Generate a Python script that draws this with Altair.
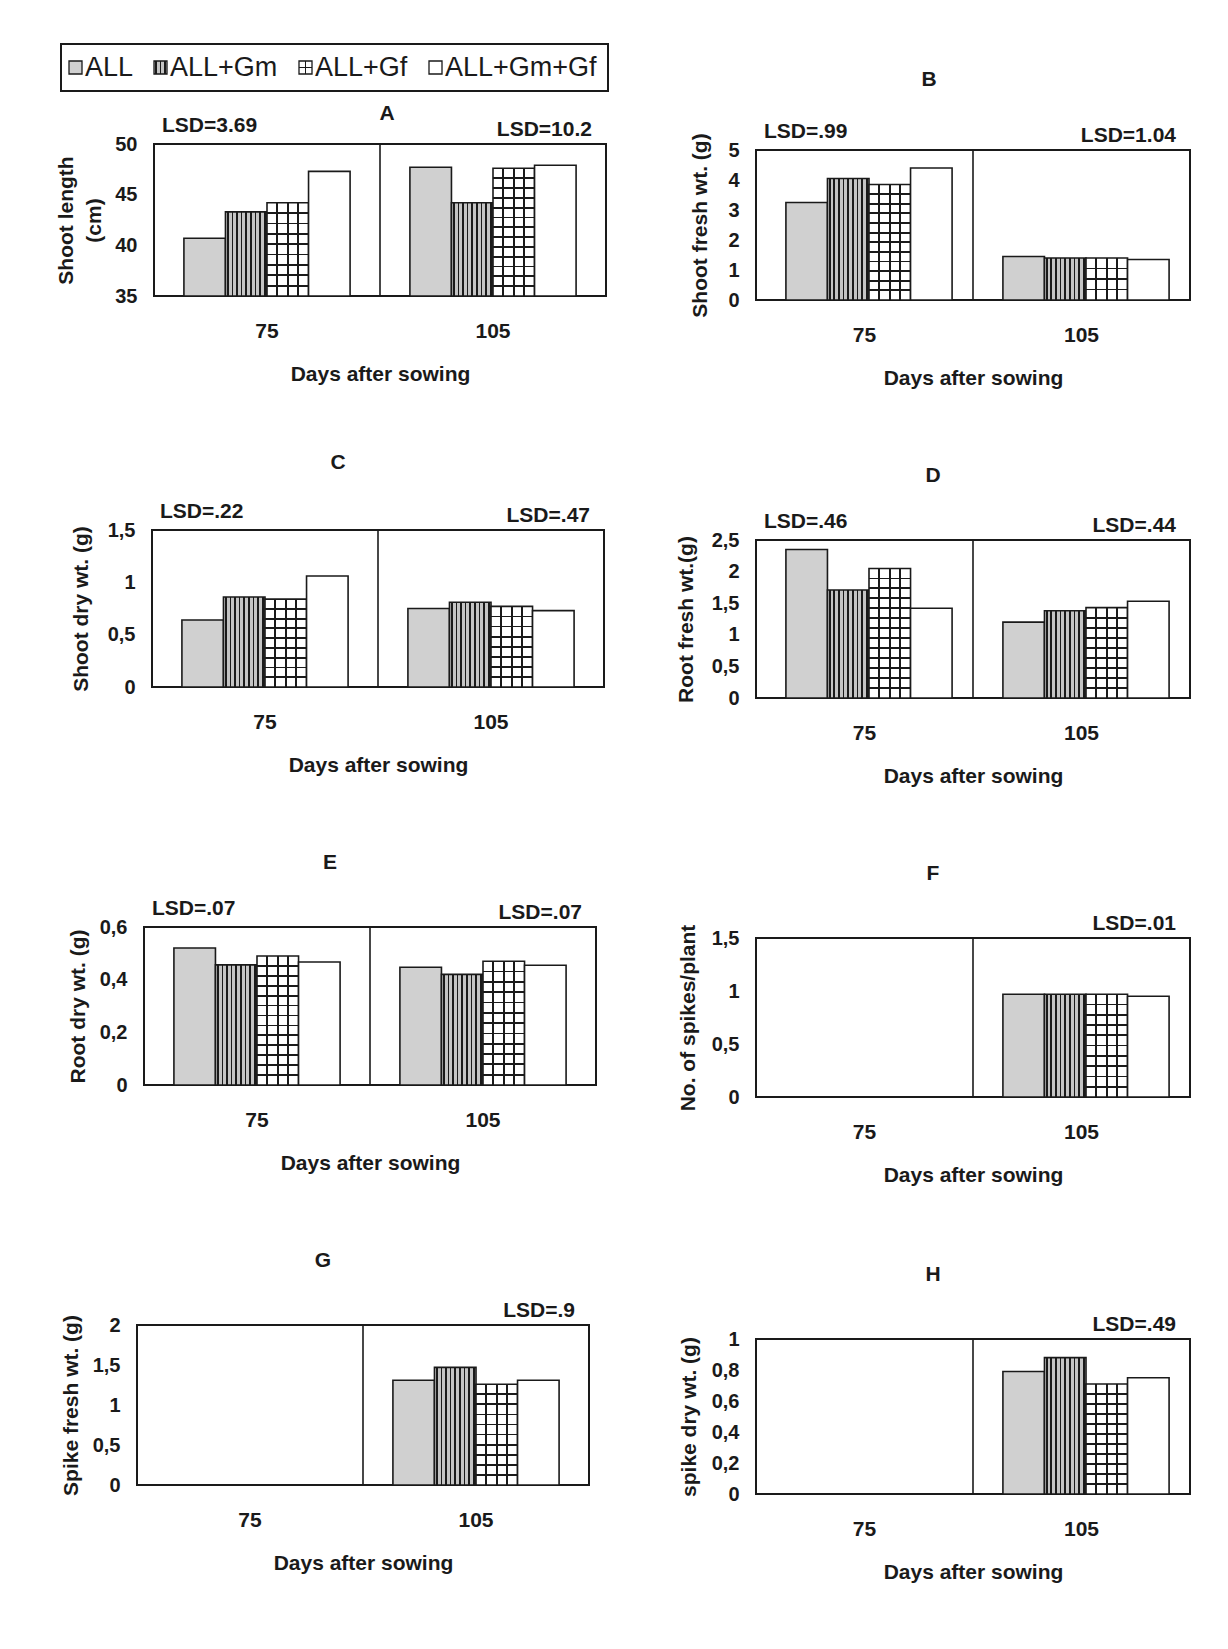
import altair as alt
import pandas as pd

TREAT = ["ALL", "ALL+Gm", "ALL+Gf", "ALL+Gm+Gf"]
DAYS = ["75", "105"]

# values (order: ALL, ALL+Gm, ALL+Gf, ALL+Gm+Gf)
A_75 = [40.7, 43.3, 44.2, 47.3]
A_105 = [47.7, 44.2, 47.6, 47.9]
B_75 = [3.25, 4.05, 3.85, 4.4]
B_105 = [1.45, 1.4, 1.4, 1.35]
C_75 = [0.64, 0.86, 0.84, 1.06]
C_105 = [0.75, 0.81, 0.77, 0.73]
D_75 = [2.35, 1.71, 2.05, 1.42]
D_105 = [1.2, 1.38, 1.43, 1.53]
E_75 = [0.52, 0.456, 0.49, 0.467]
E_105 = [0.447, 0.42, 0.47, 0.455]
F_105 = [0.97, 0.97, 0.97, 0.95]
G_105 = [1.31, 1.47, 1.26, 1.31]
H_105 = [0.79, 0.88, 0.71, 0.75]

LSD_A = ["LSD=3.69", "LSD=10.2"]
LSD_B = ["LSD=.99", "LSD=1.04"]
LSD_C = ["LSD=.22", "LSD=.47"]
LSD_D = ["LSD=.46", "LSD=.44"]
LSD_E = ["LSD=.07", "LSD=.07"]
LSD_F = [None, "LSD=.01"]
LSD_G = [None, "LSD=.9"]
LSD_H = [None, "LSD=.49"]

TICKS_A = [35, 40, 45, 50]
TICKS_B = [0, 1, 2, 3, 4, 5]
TICKS_C = [0, 0.5, 1, 1.5]
TICKS_D = [0, 0.5, 1, 1.5, 2, 2.5]
TICKS_E = [0, 0.2, 0.4, 0.6]
TICKS_F = [0, 0.5, 1, 1.5]
TICKS_G = [0, 0.5, 1, 1.5, 2]
TICKS_H = [0, 0.2, 0.4, 0.6, 0.8, 1]

FONT = "Liberation Sans"
INK = "#1a1a1a"
GRAY = "#d0d0d0"
CLEAR = "rgba(0,0,0,0)"
WL, WR = 452, 434
PAD_OUT = 0.72
FS = 21


def lin_grad(centers, thick, color, bg, vertical_dir=False):
    stops = [(bg, 0.0)]
    for c in centers:
        a = max(0.0, c - thick / 2)
        b = min(1.0, c + thick / 2)
        stops += [(bg, a), (color, a), (color, b), (bg, b)]
    stops.append((bg, 1.0))
    gs = [alt.GradientStop(color=col, offset=round(o, 4)) for col, o in stops]
    if vertical_dir:
        return alt.LinearGradient(gradient="linear", stops=gs, x1=0, x2=0, y1=0, y2=1)
    return alt.LinearGradient(gradient="linear", stops=gs, x1=0, x2=1, y1=0, y2=0)


def gm_fill(bw, n=9):
    return lin_grad([(k + 0.5) / n for k in range(n)], 1.7 / bw, INK, "#c4c4c4")


def gf_vfill(bw, cols=4):
    return lin_grad([k / cols for k in range(1, cols)], 1.8 / bw, INK, "white")


def gf_hfill(hpx, cell=10.0):
    rows = max(1, round(hpx / cell))
    return lin_grad([k / rows for k in range(1, rows)], 1.8 / max(hpx, 1), INK, CLEAR, True)


def xenc(band=None):
    kw = {}
    if band is not None:
        kw["bandPosition"] = band
    return alt.X(
        "day:N", sort=DAYS,
        scale=alt.Scale(domain=DAYS, paddingInner=0, paddingOuter=0),
        axis=alt.Axis(title="Days after sowing", labelAngle=0, ticks=False, domain=False,
                      labelPadding=24, titlePadding=22, labelFontSize=FS, titleFontSize=FS,
                      labelFontWeight="bold", titleFontWeight="bold", labelColor=INK,
                      titleColor=INK, labelFont=FONT, titleFont=FONT),
        **kw)


def yaxis(title, ticks, tx, h):
    return alt.Axis(title=title, values=ticks, format="~g",
                    labelExpr="replace(datum.label, '.', ',')",
                    ticks=False, domain=False, grid=False, labelPadding=17,
                    labelFontSize=20, labelFontWeight="bold", labelFont=FONT, labelColor=INK,
                    titleFont=FONT, titleFontSize=FS, titleFontWeight="bold", titleColor=INK,
                    titleX=tx, titleY=h / 2, titleAngle=-90, titleBaseline="middle",
                    titleAlign="center", titleLineHeight=28)


def panel(letter, ytitle, dom, ticks, v75, v105, lsd, W, H, title_off, tx, tdx=-40):
    rows = []
    for d, vals in zip(DAYS, (v75, v105)):
        if vals is None:
            continue
        for t, v in zip(TREAT, vals):
            rows.append({"day": d, "trt": t, "val": v})
    df = pd.DataFrame(rows)
    yscale = alt.Scale(domain=dom, zero=False, nice=False)
    yax = yaxis(ytitle, ticks, tx, H)
    xo = alt.XOffset("trt:N", sort=TREAT,
                     scale=alt.Scale(domain=TREAT, paddingInner=0, paddingOuter=PAD_OUT))
    base = alt.Chart(df).encode(x=xenc(), xOffset=xo,
                                y=alt.Y("val:Q", scale=yscale, axis=yax),
                                y2=alt.datum(dom[0]))
    bw = (W / 2) / (4 + 2 * PAD_OUT)
    layers = [
        base.transform_filter(alt.datum.trt == "ALL").mark_bar(fill=GRAY, stroke=INK, strokeWidth=1.6),
        base.transform_filter(alt.datum.trt == "ALL+Gm").mark_bar(fill=gm_fill(bw), stroke=INK, strokeWidth=1.6),
        base.transform_filter(alt.datum.trt == "ALL+Gf").mark_bar(fill=gf_vfill(bw), stroke=INK, strokeWidth=1.6),
    ]
    for d, vals in zip(DAYS, (v75, v105)):
        if vals is None:
            continue
        hpx = (vals[2] - dom[0]) / (dom[1] - dom[0]) * H
        layers.append(
            base.transform_filter((alt.datum.trt == "ALL+Gf") & (alt.datum.day == d))
            .mark_bar(fill=gf_hfill(hpx), strokeWidth=0))
    layers.append(base.transform_filter(alt.datum.trt == "ALL+Gm+Gf")
                  .mark_bar(fill="white", stroke=INK, strokeWidth=1.6))
    div = alt.Chart(pd.DataFrame({"day": ["105"]})).mark_rule(
        stroke=INK, strokeWidth=1.6).encode(x=xenc(0))
    layers.append(div)
    ydat = alt.YDatum(dom[1], scale=yscale, axis=yax, type="quantitative")
    if lsd[0]:
        layers.append(alt.Chart(pd.DataFrame({"day": ["75"], "lab": [lsd[0]]})).mark_text(
            align="left", baseline="middle", dx=8, dy=-18, fontSize=FS, fontWeight="bold",
            font=FONT, color=INK).encode(x=xenc(0), y=ydat, text="lab:N"))
    if lsd[1]:
        layers.append(alt.Chart(pd.DataFrame({"day": ["105"], "lab": [lsd[1]]})).mark_text(
            align="right", baseline="middle", dx=-14, dy=-14, fontSize=FS, fontWeight="bold",
            font=FONT, color=INK).encode(x=xenc(1), y=ydat, text="lab:N"))
    return alt.layer(*layers).properties(
        width=W, height=H,
        title=alt.TitleParams(letter, fontSize=FS, fontWeight="bold", font=FONT, color=INK,
                              offset=title_off, anchor="middle", dx=tdx))


def spacer():
    return (alt.Chart(pd.DataFrame({"s": [0]}))
            .mark_point(opacity=0, size=1)
            .encode(x=alt.value(0), y=alt.value(0))
            .properties(width=1, height=1,
                        view=alt.ViewBackground(stroke="transparent", strokeOpacity=0)))


def wrap(p, gap):
    return alt.hconcat(spacer(), p, spacing=gap)


# legend
LEG_W, LEG_H = 547, 47
leg_df = pd.DataFrame({"trt": TREAT, "i": [0, 1, 2, 3]})
lbase = (alt.Chart(leg_df)
         .transform_calculate(w="length(replace(datum.trt, 'm', 'mm')) * 15 + 40")
         .transform_window(cum="sum(w)", sort=[alt.SortField("i")], frame=[None, 0])
         .transform_calculate(start="datum.cum - datum.w")
         .encode(x=alt.X("start:Q", scale=alt.Scale(domain=[0, LEG_W], nice=False), axis=None)))
SQ = 13
SQX = 14.5
leg_layers = [
    lbase.transform_filter(alt.datum.trt == "ALL").mark_square(size=SQ * SQ, fill=GRAY, stroke=INK, strokeWidth=1.3, opacity=1, xOffset=SQX),
    lbase.transform_filter(alt.datum.trt == "ALL+Gm").mark_square(size=SQ * SQ, fill=gm_fill(SQ, 3), stroke=INK, strokeWidth=1.3, opacity=1, xOffset=SQX),
    lbase.transform_filter(alt.datum.trt == "ALL+Gf").mark_square(size=SQ * SQ, fill=gf_vfill(SQ, 2), stroke=INK, strokeWidth=1.3, opacity=1, xOffset=SQX),
    lbase.transform_filter(alt.datum.trt == "ALL+Gf").mark_square(size=SQ * SQ, fill=gf_hfill(SQ, 6.5), strokeWidth=0, opacity=1, xOffset=SQX),
    lbase.transform_filter(alt.datum.trt == "ALL+Gm+Gf").mark_square(size=SQ * SQ, fill="white", stroke=INK, strokeWidth=1.3, opacity=1, xOffset=SQX),
    lbase.mark_text(align="left", baseline="middle", dx=24, fontSize=27, font=FONT, color=INK).encode(text="trt:N"),
]
legend = alt.layer(*leg_layers).properties(width=LEG_W, height=LEG_H)

pA = panel("A", ["Shoot length", "(cm)"], [35, 50], TICKS_A, A_75, A_105, LSD_A, WL, 152, -9, -88, tdx=7)
pB = panel("B", "Shoot fresh wt. (g)", [0, 5], TICKS_B, B_75, B_105, LSD_B, WR, 150, 31, -56, tdx=-44)
pC = panel("C", "Shoot dry wt. (g)", [0, 1.5], TICKS_C, C_75, C_105, LSD_C, WL, 157, 28, -71)
pD = panel("D", "Root fresh wt.(g)", [0, 2.5], TICKS_D, D_75, D_105, LSD_D, WR, 158, 25, -70)
pE = panel("E", "Root dry wt. (g)", [0, 0.6], TICKS_E, E_75, E_105, LSD_E, WL, 158, 25, -66)
pF = panel("F", "No. of spikes/plant", [0, 1.5], TICKS_F, None, F_105, LSD_F, WR, 159, 29, -68)
pG = panel("G", "Spike fresh wt. (g)", [0, 2], TICKS_G, None, G_105, LSD_G, WL, 160, 29, -66)
pH = panel("H", "spike dry wt. (g)", [0, 1], TICKS_H, None, H_105, LSD_H, WR, 155, 29, -67)

left = alt.vconcat(
    alt.vconcat(alt.vconcat(legend, wrap(pA, -9), spacing=10), wrap(pC, 6), spacing=66),
    wrap(pE, 3), wrap(pG, -4), spacing=75)
right = alt.vconcat(
    alt.vconcat(alt.vconcat(spacer(), pB, spacing=23), pD, pF, spacing=75),
    pH, spacing=77)

chart = (alt.hconcat(left, right, spacing=64)
         .properties(padding={"left": 45, "top": 35, "right": 5, "bottom": 5})
         .configure(background="white")
         .configure_view(stroke=INK, strokeWidth=2))

chart.save("out.html", embed_options={"renderer": "svg", "actions": False})
